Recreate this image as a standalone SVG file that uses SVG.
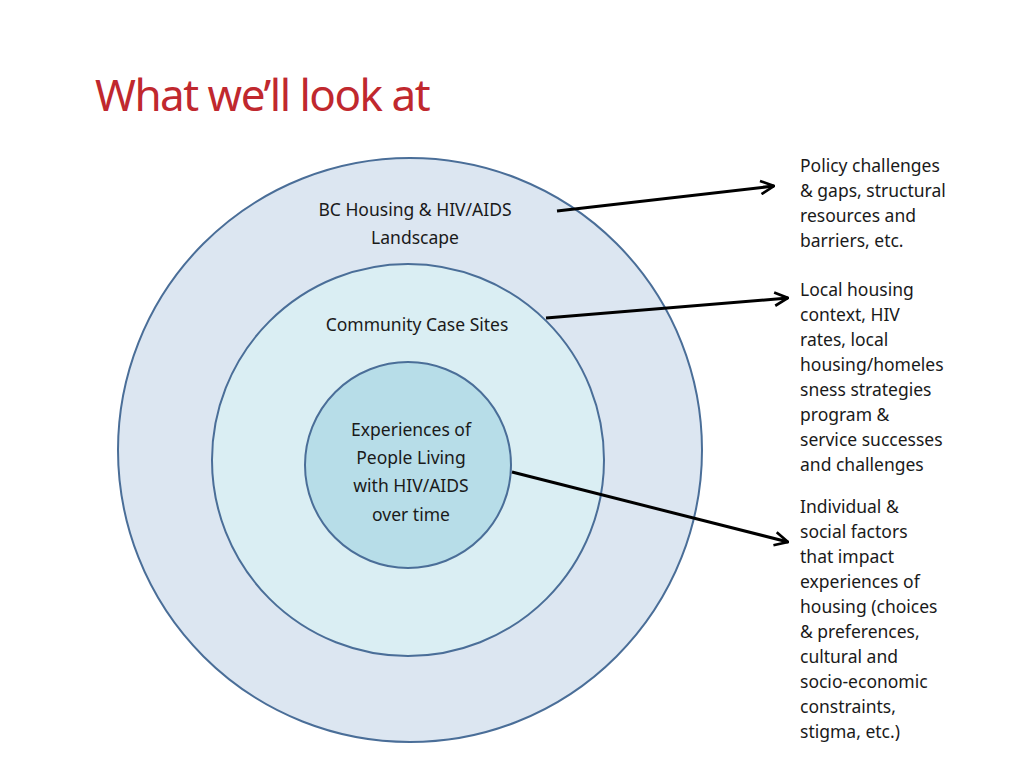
<svg xmlns="http://www.w3.org/2000/svg" width="1024" height="768" viewBox="0 0 1024 768">
<defs>
<marker id="ah" viewBox="0 0 10 10" refX="9" refY="5" markerWidth="7" markerHeight="7" orient="auto" markerUnits="userSpaceOnUse"><path d="M0,0 L10,5 L0,10 z" fill="#000"/></marker>
<marker id="a" viewBox="0 0 12 12" refX="11" refY="6" markerWidth="16" markerHeight="16" orient="auto" markerUnits="userSpaceOnUse"><path d="M1,1 L11,6 L1,11" fill="none" stroke="#000" stroke-width="2"/></marker>
</defs>
<style>
.c{stroke:#4a6e98;stroke-width:2}
.t{font-family:"Noto Sans","Liberation Sans",sans-serif;font-size:17.5px;fill:#1a1a1a}
.m{text-anchor:middle}
.l{stroke:#000;stroke-width:3;fill:none}
</style>
<rect width="1024" height="768" fill="#fff"/>
<text x="95" y="111" font-family="Noto Sans, Liberation Sans, sans-serif" font-size="44" fill="#c0282e" letter-spacing="-1.5">What we’ll look at</text>
<g id="outer"><circle class="c" cx="410" cy="450" r="292" fill="#dce6f1"/>
<text class="t m" x="415" y="216">BC Housing &amp; HIV/AIDS</text><text class="t m" x="415" y="244">Landscape</text></g>
<g id="middle"><circle class="c" cx="408" cy="460" r="196" fill="#daeef3"/>
<text class="t m" x="417" y="331">Community Case Sites</text></g>
<g id="inner"><circle class="c" cx="408" cy="465" r="103" fill="#b7dde8"/>
<text class="t m" x="411" y="436">Experiences of</text><text class="t m" x="411" y="464">People Living</text><text class="t m" x="411" y="492">with HIV/AIDS</text><text class="t m" x="411" y="521">over time</text></g>
<g id="connectors">
<line class="l" x1="557" y1="211" x2="774" y2="186" marker-end="url(#a)"/>
<line class="l" x1="546" y1="318" x2="788" y2="298" marker-end="url(#a)"/>
<line class="l" x1="512" y1="472" x2="788" y2="542" marker-end="url(#a)"/>
</g>
<g id="label1" class="t"><text x="800" y="172">Policy challenges</text><text x="800" y="197">&amp; gaps, structural</text><text x="800" y="222">resources and</text><text x="800" y="247">barriers, etc.</text></g>
<g id="label2" class="t"><text x="800" y="296">Local housing</text><text x="800" y="321">context, HIV</text><text x="800" y="346">rates, local</text><text x="800" y="371">housing/homeles</text><text x="800" y="396">sness strategies</text><text x="800" y="421">program &amp;</text><text x="800" y="446">service successes</text><text x="800" y="471">and challenges</text></g>
<g id="label3" class="t"><text x="800" y="513">Individual &amp;</text><text x="800" y="538">social factors</text><text x="800" y="563">that impact</text><text x="800" y="588">experiences of</text><text x="800" y="613">housing (choices</text><text x="800" y="638">&amp; preferences,</text><text x="800" y="663">cultural and</text><text x="800" y="688">socio-economic</text><text x="800" y="713">constraints,</text><text x="800" y="738">stigma, etc.)</text></g>
</svg>
